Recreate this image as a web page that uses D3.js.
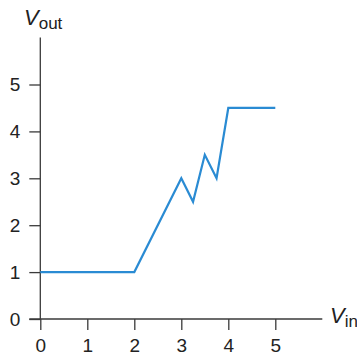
<!DOCTYPE html>
<html>
<head>
<meta charset="utf-8">
<script src="https://cdn.jsdelivr.net/npm/d3@7"></script>
<style>
  body { margin: 0; background: #fff; }
  svg { display: block; font-family: "Liberation Sans", Arial, sans-serif; }
</style>
</head>
<body>
<div id="chart"></div>
<script>
// transfer curve points
var vin = [0, 2, 3, 3.25, 3.5, 3.75, 4, 5];
var vout = [1, 1, 3, 2.5, 3.5, 3, 4.5, 4.5];
var xTicks = [0, 1, 2, 3, 4, 5];
var yTicks = [0, 1, 2, 3, 4, 5];

var width = 357, height = 355;
var axisColor = "#3a3a3a";
var lineColor = "#2a8bd3";

var svg = d3.select("#chart").append("svg")
  .attr("width", width)
  .attr("height", height);

var x = d3.scaleLinear().domain([0, 5]).range([40.3, 275.3]);
var y = d3.scaleLinear().domain([0, 5]).range([319, 84.5]);

// x axis
var xAxis = svg.append("g")
  .attr("transform", "translate(0," + y(0) + ")")
  .call(d3.axisBottom(x).tickValues(xTicks).tickSize(11).tickPadding(9).tickFormat(d3.format("d")));
xAxis.select(".domain").remove();
xAxis.selectAll("line").attr("stroke", axisColor).attr("stroke-width", 1.3);
xAxis.selectAll("text").attr("font-size", 19).attr("fill", "#222").attr("font-family", null);

// y axis
var yAxis = svg.append("g")
  .attr("transform", "translate(" + x(0) + ",0)")
  .call(d3.axisLeft(y).tickValues(yTicks).tickSize(11).tickPadding(9).tickFormat(d3.format("d")));
yAxis.select(".domain").remove();
yAxis.selectAll("line").attr("stroke", axisColor).attr("stroke-width", 1.3);
yAxis.selectAll("text").attr("font-size", 19).attr("fill", "#222").attr("font-family", null);

// axis lines, running out to 6
svg.append("line")
  .attr("x1", x(0) - 11).attr("x2", x(6))
  .attr("y1", y(0)).attr("y2", y(0))
  .attr("stroke", axisColor).attr("stroke-width", 1.3);
svg.append("line")
  .attr("x1", x(0)).attr("x2", x(0))
  .attr("y1", y(0)).attr("y2", y(6))
  .attr("stroke", axisColor).attr("stroke-width", 1.3);

// axis titles
var yt = svg.append("text").attr("x", 24).attr("y", 25).attr("fill", "#222");
yt.append("tspan").attr("font-style", "italic").attr("font-size", 22).text("V");
yt.append("tspan").attr("font-size", 17).attr("dy", 4).text("out");

var xt = svg.append("text").attr("x", 330).attr("y", 323).attr("fill", "#222");
xt.append("tspan").attr("font-style", "italic").attr("font-size", 22).text("V");
xt.append("tspan").attr("font-size", 17).attr("dy", 4).text("in");

// curve
var pts = vin.map(function (d, i) { return [d, vout[i]]; });
var line = d3.line()
  .x(function (d) { return x(d[0]); })
  .y(function (d) { return y(d[1]); });
svg.append("path")
  .datum(pts)
  .attr("d", line)
  .attr("fill", "none")
  .attr("stroke", lineColor)
  .attr("stroke-width", 2.2)
  .attr("stroke-linejoin", "miter");
</script>
</body>
</html>
